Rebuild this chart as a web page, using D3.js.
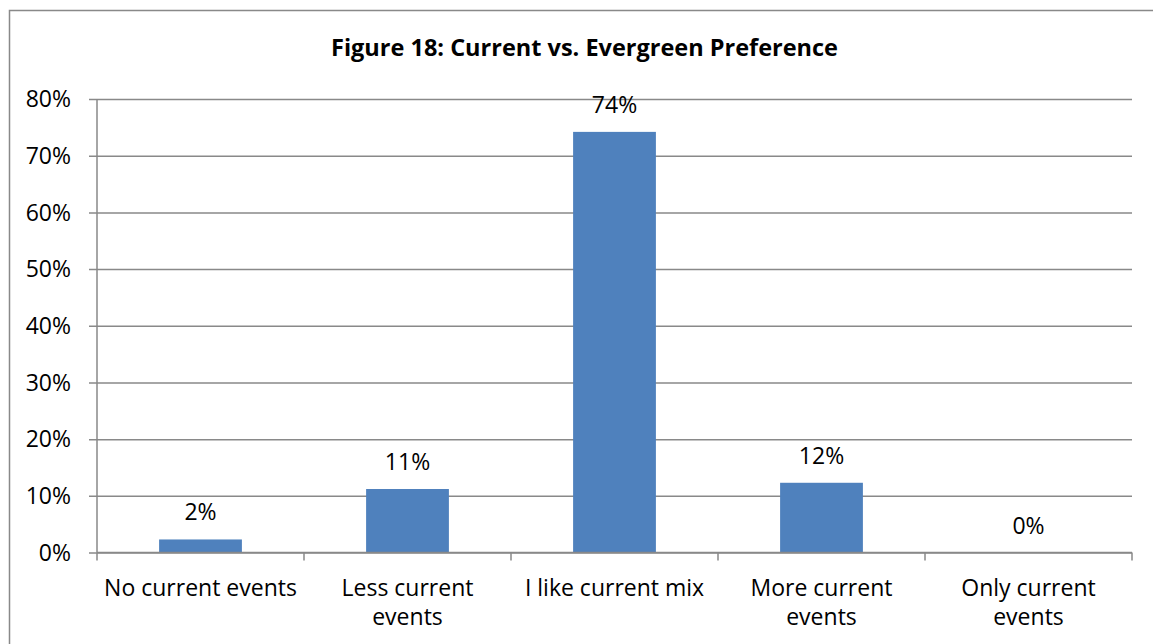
<!DOCTYPE html>
<html>
<head>
<meta charset="utf-8">
<script src="https://cdn.jsdelivr.net/npm/d3@7"></script>
<style>
  html, body { margin: 0; padding: 0; background: #fff; }
  svg { display: block; }
  text { font-family: "Open Sans", "Noto Sans", sans-serif; fill: #000; }
</style>
</head>
<body>
<svg id="chart" width="1153" height="644"></svg>
<script>
// Survey responses: preference for current events vs. evergreen content
const chartTitle = "Figure 18: Current vs. Evergreen Preference";
const categories = ["No current events", "Less current events", "I like current mix", "More current events", "Only current events"];
const shares = [0.023, 0.112, 0.742, 0.123, 0.0];
const shareLabels = ["2%", "11%", "74%", "12%", "0%"];
const yTicks = [0, 0.1, 0.2, 0.3, 0.4, 0.5, 0.6, 0.7, 0.8];

const svg = d3.select("#chart");
const plot = { left: 97, right: 1132, top: 99, bottom: 552.5 };
const gridColor = "#898989";
const barColor = "#4F81BD";
const labelSize = "23px";

// Chart area frame (extends past the visible window on the right and bottom)
svg.append("rect")
  .attr("x", 9.5).attr("y", 10.5)
  .attr("width", 1150).attr("height", 660)
  .attr("fill", "#fff")
  .attr("stroke", gridColor).attr("stroke-width", 1.5);

// Title, centred over the chart area
svg.append("text")
  .attr("x", 584.5).attr("y", 56)
  .attr("text-anchor", "middle")
  .style("font-weight", "bold")
  .style("font-size", "23.5px")
  .text(chartTitle);

const x = d3.scaleBand()
  .domain(categories)
  .range([plot.left, plot.right])
  .paddingInner(0.6)
  .paddingOuter(0.3);

const y = d3.scaleLinear()
  .domain([0, 0.8])
  .range([plot.bottom, plot.top]);

// Horizontal gridlines with the y axis on the left
const yAxis = d3.axisLeft(y)
  .tickValues(yTicks)
  .tickFormat(d3.format(".0%"))
  .tickSize(-(plot.right - plot.left));

const gy = svg.append("g")
  .attr("transform", `translate(${plot.left},0)`)
  .call(yAxis);
gy.select(".domain").remove();
gy.selectAll(".tick line")
  .attr("x1", -8)
  .attr("stroke", gridColor)
  .attr("stroke-width", 1.5);
gy.selectAll(".tick text")
  .attr("x", -26)
  .attr("dy", "0.34em")
  .style("font-size", labelSize)
  .style("font-family", "'Open Sans', sans-serif")
  .attr("fill", "#000");

// Vertical axis line
svg.append("line")
  .attr("x1", plot.left).attr("x2", plot.left)
  .attr("y1", plot.top).attr("y2", plot.bottom)
  .attr("stroke", gridColor).attr("stroke-width", 1.5);

// Bars
svg.append("g")
  .selectAll("rect")
  .data(categories)
  .join("rect")
  .attr("x", d => x(d))
  .attr("width", x.bandwidth())
  .attr("y", (d, i) => y(shares[i]))
  .attr("height", (d, i) => y(0) - y(shares[i]))
  .attr("fill", barColor);

// Value labels above the bars
svg.append("g")
  .selectAll("text")
  .data(categories)
  .join("text")
  .attr("x", d => x(d) + x.bandwidth() / 2)
  .attr("y", (d, i) => y(shares[i]) - 19)
  .attr("text-anchor", "middle")
  .style("font-size", labelSize)
  .text((d, i) => shareLabels[i]);

// Category axis: baseline plus tick marks between categories
const step = x.step();
const boundaries = d3.range(categories.length + 1).map(i => plot.left + i * step);
const gx = svg.append("g");
gx.append("line")
  .attr("x1", plot.left).attr("x2", plot.right)
  .attr("y1", plot.bottom).attr("y2", plot.bottom)
  .attr("stroke", gridColor).attr("stroke-width", 1.5);
gx.selectAll("line.tick")
  .data(boundaries)
  .join("line")
  .attr("class", "tick")
  .attr("x1", d => d).attr("x2", d => d)
  .attr("y1", plot.bottom).attr("y2", plot.bottom + 8)
  .attr("stroke", gridColor).attr("stroke-width", 1.5);

// Category labels, wrapped to the width of one category slot
const maxLineWidth = step * 0.98;
const catLabels = gx.selectAll("text.cat")
  .data(categories)
  .join("text")
  .attr("class", "cat")
  .attr("text-anchor", "middle")
  .style("font-size", labelSize);

catLabels.each(function (d) {
  const t = d3.select(this);
  const cx = x(d) + x.bandwidth() / 2;
  const words = d.split(" ");
  const lines = [];
  let line = [];
  const probe = t.append("tspan");
  words.forEach(w => {
    const trial = line.concat(w).join(" ");
    probe.text(trial);
    if (probe.node().getComputedTextLength() > maxLineWidth && line.length) {
      lines.push(line.join(" "));
      line = [w];
    } else {
      line.push(w);
    }
  });
  lines.push(line.join(" "));
  probe.remove();
  lines.forEach((ln, i) => {
    t.append("tspan")
      .attr("x", cx)
      .attr("y", 595.5 + i * 29)
      .text(ln);
  });
});
</script>
</body>
</html>
